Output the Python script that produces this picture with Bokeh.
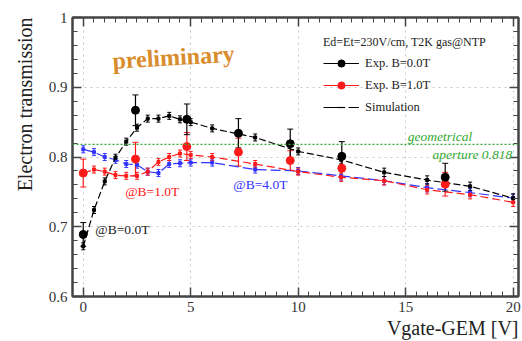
import numpy as np
from bokeh.plotting import figure
from bokeh.models import (ColumnDataSource, Whisker, TeeHead, Label, Legend, LegendItem,
                          LinearAxis, FixedTicker, Span, Title, CustomLabelingPolicy)
from bokeh.embed import file_html
from bokeh.resources import INLINE

# ---------------- data ----------------
exp_x = [0.0, 2.43, 4.82, 7.22, 9.63, 12.03, 16.84]
exp_b0_y = [0.689, 0.867, 0.854, 0.834, 0.819, 0.801, 0.771]
exp_b0_err = [0.017, 0.022, 0.022, 0.021, 0.021, 0.021, 0.020]
exp_b1_y = [0.777, 0.797, 0.815, 0.807, 0.795, 0.784, 0.761]
exp_b1_err = [0.020, 0.024, 0.020, 0.020, 0.014, 0.013, 0.017]

sim_x = [0, 0.5, 1, 1.5, 2, 2.5, 3, 3.5, 4, 4.5, 5, 6, 8, 10, 12, 14, 16, 18, 20]
sim_b0_y = [0.672, 0.724, 0.765, 0.799, 0.822, 0.842, 0.855, 0.855, 0.859, 0.854,
            0.850, 0.841, 0.828, 0.808, 0.796, 0.778, 0.767, 0.758, 0.741]
sim_b1_y = [0.777, 0.782, 0.779, 0.774, 0.773, 0.773, 0.779, 0.793, 0.800, 0.805,
            0.803, 0.800, 0.790, 0.779, 0.771, 0.766, 0.753, 0.746, 0.735]
sim_b4_y = [0.811, 0.807, 0.800, 0.796, 0.790, 0.789, 0.779, 0.777, 0.790, 0.791,
            0.792, 0.792, 0.782, 0.780, 0.773, 0.766, 0.756, 0.749, 0.741]
sim_err = [0.005, 0.005, 0.005, 0.005, 0.005, 0.005, 0.005, 0.005, 0.005, 0.005,
           0.005, 0.005, 0.005, 0.005, 0.006, 0.006, 0.006, 0.006, 0.006]

geo_aperture = 0.818
x_ticks = [0, 5, 10, 15, 20]
y_ticks = [0.6, 0.7, 0.8, 0.9, 1.0]
y_tick_labels = {0.6: "0.6", 0.7: "0.7", 0.8: "0.8", 0.9: "0.9", 1.0: "1"}
legend_title = "Ed=Et=230V/cm, T2K gas@NTP"

FONT = "Liberation Serif"
RED = "#ff1a1a"
BLUE = "#3333ff"
GREEN = "#33aa33"
AX = "#444444"

p = figure(width=522, height=341, x_range=(-0.5, 20.25), y_range=(0.6, 1.0),
           output_backend="svg", toolbar_location=None,
           min_border_left=72, min_border_right=4, min_border_top=17, min_border_bottom=45)
p.background_fill_color = "white"
p.border_fill_color = "white"
p.outline_line_color = AX
p.outline_line_width = 2

xminor = list(np.arange(-0.5, 20.3, 0.5))
yminor = list(np.arange(0.6, 1.001, 0.02))
p.xaxis.ticker = FixedTicker(ticks=x_ticks, minor_ticks=xminor)
p.yaxis.ticker = FixedTicker(ticks=y_ticks, minor_ticks=yminor)
p.yaxis.major_label_overrides = y_tick_labels
p.xgrid.ticker = FixedTicker(ticks=x_ticks)
p.ygrid.ticker = FixedTicker(ticks=y_ticks)
p.grid.grid_line_color = "#c8c8c8"
p.grid.grid_line_dash = "dotted"

no_labels = CustomLabelingPolicy(code="""
for (const i of Array.from(indices)) { indices.unset(i) }
return indices
""")
top_ax = LinearAxis(ticker=FixedTicker(ticks=x_ticks, minor_ticks=xminor),
                    major_label_policy=no_labels)
right_ax = LinearAxis(ticker=FixedTicker(ticks=y_ticks, minor_ticks=yminor),
                      major_label_policy=no_labels)
p.add_layout(top_ax, "above")
p.add_layout(right_ax, "right")

for ax in p.axis:
    ax.major_tick_in = 9
    ax.major_tick_out = 0
    ax.minor_tick_in = 5
    ax.minor_tick_out = 0
    ax.axis_line_color = AX
    ax.axis_line_width = 2
    ax.major_tick_line_color = AX
    ax.minor_tick_line_color = AX
    ax.major_tick_line_width = 1.5
    ax.major_label_text_font = FONT
    ax.major_label_text_font_size = "15px"
    ax.major_label_text_color = "#333333"
for ax in (top_ax, right_ax):
    ax.major_label_text_font_size = "1px"
    ax.major_label_standoff = 0
p.xaxis[0].major_label_standoff = 4
p.yaxis[0].major_label_standoff = 5

p.add_layout(Title(text="Vgate-GEM [V]", align="right", text_font=FONT,
                   text_font_size="20px", text_font_style="normal", text_color="#222222",
                   standoff=0, offset=0), "below")
p.add_layout(Title(text="Electron transmission", align="right", text_font=FONT,
                   text_font_size="20px", text_font_style="normal", text_color="#222222",
                   standoff=20), "left")

p.add_layout(Span(location=geo_aperture, dimension="width", line_color=GREEN,
                  line_dash="2 2", line_width=1.3))

# simulation
def sim(y, color, dash):
    src = ColumnDataSource(dict(x=sim_x, y=y,
                                lo=[a - e for a, e in zip(y, sim_err)],
                                hi=[a + e for a, e in zip(y, sim_err)]))
    p.line("x", "y", source=src, line_color=color, line_dash=dash, line_width=1.2)
    p.add_layout(Whisker(base="x", lower="lo", upper="hi", source=src, line_color=color,
                         line_width=1,
                         lower_head=TeeHead(size=4, line_color=color),
                         upper_head=TeeHead(size=4, line_color=color)))
    p.scatter("x", "y", source=src, marker="square", size=3, color=color)

sim(sim_b4_y, BLUE, "10 4")
sim(sim_b1_y, RED, "8 4")
sim(sim_b0_y, "black", "7 3")

def exp(y, err, color):
    src = ColumnDataSource(dict(x=exp_x, y=y,
                                lo=[a - e for a, e in zip(y, err)],
                                hi=[a + e for a, e in zip(y, err)]))
    p.add_layout(Whisker(base="x", lower="lo", upper="hi", source=src, line_color=color,
                         line_width=1.2,
                         lower_head=TeeHead(size=6, line_color=color),
                         upper_head=TeeHead(size=6, line_color=color)))
    return p.scatter("x", "y", source=src, marker="circle", size=8, color=color)

exp(exp_b1_y, exp_b1_err, RED)
exp(exp_b0_y, exp_b0_err, "black")

# legend renderers (hold a single NaN point, so nothing shows in the plot area)
nan = [float("nan")]
l0 = p.line(x=nan, y=nan, line_color="black", line_width=1.2)
m0 = p.scatter(x=nan, y=nan, marker="circle", color="black")
l1 = p.line(x=nan, y=nan, line_color=RED, line_width=1.2)
m1 = p.scatter(x=nan, y=nan, marker="circle", color=RED)
l2 = p.line(x=nan, y=nan, line_color="black", line_width=1.2, line_dash="19 6")
m2 = p.scatter(x=nan, y=nan, marker="dash", angle=np.pi / 2, color="black", line_width=1.2)
legend = Legend(items=[LegendItem(label="Exp. B=0.0T", renderers=[l0, m0]),
                       LegendItem(label="Exp. B=1.0T", renderers=[l1, m1]),
                       LegendItem(label="Simulation", renderers=[l2, m2])],
                title=legend_title, location=(247, 176),
                background_fill_alpha=0, border_line_alpha=0,
                label_text_font=FONT, label_text_font_size="12.5px", label_text_color="#222222",
                title_text_font=FONT, title_text_font_size="12px",
                title_text_font_style="normal", title_text_color="#222222",
                glyph_width=36, glyph_height=18, label_height=18, spacing=4,
                padding=4, margin=0, title_standoff=4, label_standoff=6)
p.add_layout(legend)

# text annotations
p.add_layout(Label(x=4.2, y=0.943, text="preliminary", text_font=FONT,
                   text_font_style="bold", text_font_size="24px", text_color="#d98c2b",
                   angle=0.06, text_align="center", text_baseline="middle"))
p.add_layout(Label(x=16.6, y=0.829, text="geometrical", text_font=FONT,
                   text_font_style="italic", text_font_size="13.5px", text_color=GREEN,
                   text_align="center", text_baseline="middle"))
p.add_layout(Label(x=18.1, y=0.803, text="aperture 0.818", text_font=FONT,
                   text_font_style="italic", text_font_size="13.5px", text_color=GREEN,
                   text_align="center", text_baseline="middle"))
p.add_layout(Label(x=0.56, y=0.696, text="@B=0.0T", text_font=FONT,
                   text_font_size="13.5px", text_color="#222222", text_baseline="middle"))
p.add_layout(Label(x=1.95, y=0.750, text="@B=1.0T", text_font=FONT,
                   text_font_size="13.5px", text_color=RED, text_baseline="middle"))
p.add_layout(Label(x=6.98, y=0.760, text="@B=4.0T", text_font=FONT,
                   text_font_size="13.5px", text_color=BLUE, text_baseline="middle"))

open("out.html", "w").write(file_html(p, INLINE))
